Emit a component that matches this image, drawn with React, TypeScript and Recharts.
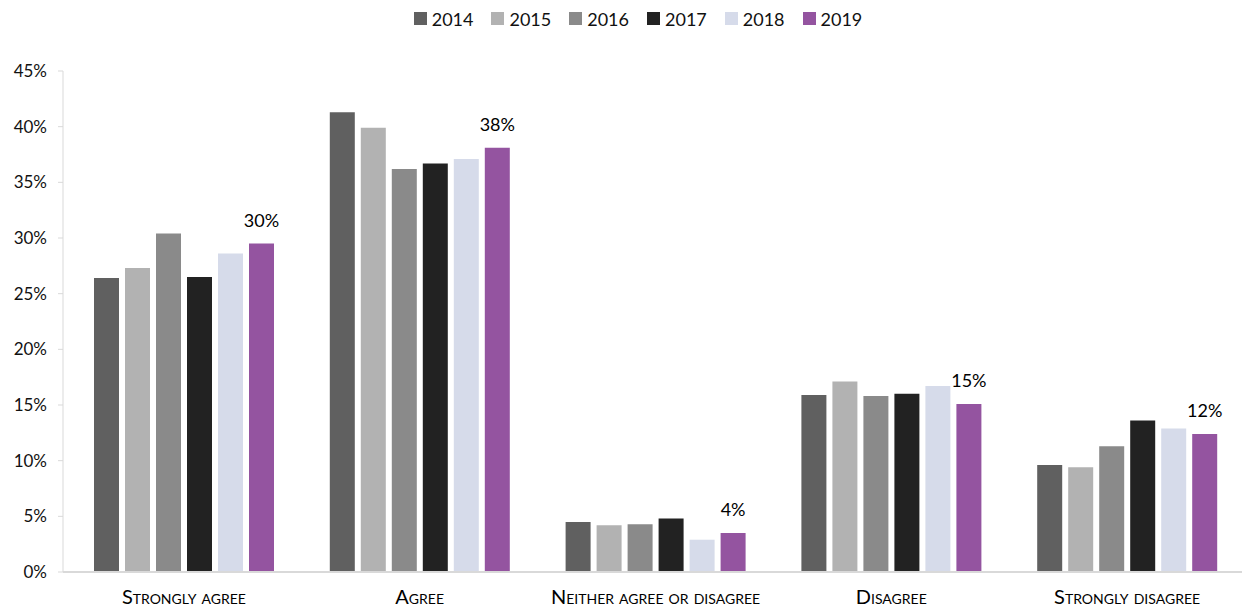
import React from "react";
import { BarChart, Bar, XAxis, YAxis, Legend, LabelList } from "recharts";

const categories = ["Strongly agree", "Agree", "Neither agree or disagree", "Disagree", "Strongly disagree"];
const years = ["2014", "2015", "2016", "2017", "2018", "2019"];
const v2014 = [26.4, 41.3, 4.5, 15.9, 9.6];
const v2015 = [27.3, 39.9, 4.2, 17.1, 9.4];
const v2016 = [30.4, 36.2, 4.3, 15.8, 11.3];
const v2017 = [26.5, 36.7, 4.8, 16.0, 13.6];
const v2018 = [28.6, 37.1, 2.9, 16.7, 12.9];
const v2019 = [29.5, 38.1, 3.5, 15.1, 12.4];
const yTicks = [0, 5, 10, 15, 20, 25, 30, 35, 40, 45];

const colors = ["#606060", "#b2b2b2", "#8a8a8a", "#222222", "#d6dbea", "#9454a0"];
const series = [v2014, v2015, v2016, v2017, v2018, v2019];

const data = categories.map((c, i) => {
  const row: Record<string, string | number> = { name: c };
  years.forEach((y, j) => {
    row[y] = series[j][i];
  });
  return row;
});

const FONT = "Lato, 'Noto Sans', sans-serif";

function XTick(props: any) {
  const { x, y, payload } = props;
  return (
    <text
      x={x}
      y={y + 24}
      textAnchor="middle"
      fill="#000"
      fontSize={20}
      fontFamily={FONT}
      style={{ fontVariant: "small-caps" }}
    >
      {payload.value}
    </text>
  );
}

function LegendContent() {
  return (
    <div
      style={{
        display: "flex",
        justifyContent: "center",
        paddingLeft: 52,
        height: 21,
        fontFamily: FONT,
        fontSize: 18,
        color: "#111",
      }}
    >
      {years.map((y, i) => (
        <div key={y} style={{ display: "flex", alignItems: "center", marginRight: 18 }}>
          <span style={{ display: "inline-block", width: 13, height: 13, background: colors[i], marginRight: 5 }} />
          <span>{y}</span>
        </div>
      ))}
    </div>
  );
}

export default function App() {
  return (
    <div style={{ position: "absolute", left: 0, top: 0, width: 1242, height: 613, background: "#fff", overflow: "hidden" }}>
      <BarChart
        width={1242}
        height={613}
        data={data}
        margin={{ top: 50, right: -3, bottom: 0, left: 0 }}
        barSize={25}
        barGap={6}
      >
        <XAxis
          dataKey="name"
          height={41}
          padding={{ left: 3, right: 0 }}
          axisLine={{ stroke: "#d9d9d9", strokeWidth: 2 }}
          tickLine={false}
          tick={<XTick />}
          interval={0}
        />
        <YAxis
          width={63}
          domain={[0, 45]}
          ticks={yTicks}
          tickFormatter={(v) => `${v}%`}
          axisLine={{ stroke: "#d9d9d9" }}
          tickLine={{ stroke: "#d9d9d9" }}
          tickSize={5}
          tickMargin={11}
          tick={{ fill: "#111", fontSize: 17, fontFamily: FONT }}
        />
        <Legend
          verticalAlign="top"
          height={21}
          content={<LegendContent />}
          wrapperStyle={{ top: 8, left: 0, width: 1242 }}
        />
        {years.map((y, i) => (
          <Bar key={y} dataKey={y} fill={colors[i]} isAnimationActive={false}>
            {y === "2019" && (
              <LabelList
                dataKey={y}
                position="top"
                offset={17}
                fill="#000"
                fontSize={18}
                fontFamily={FONT}
                formatter={(v: any) => `${Math.round(v)}%`}
              />
            )}
          </Bar>
        ))}
      </BarChart>
    </div>
  );
}
